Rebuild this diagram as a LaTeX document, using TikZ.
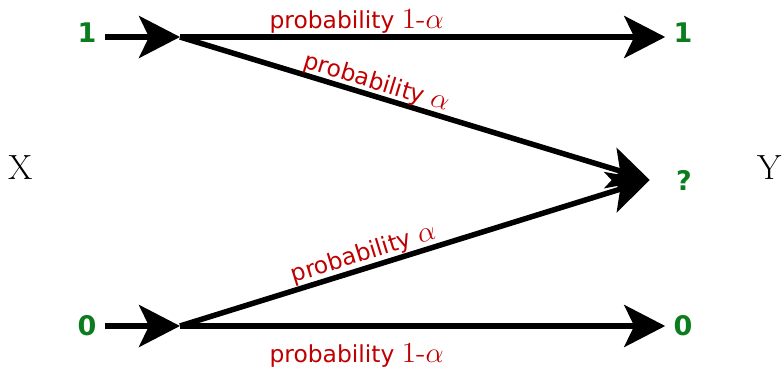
\documentclass[tikz,border=0pt]{standalone}
\usepackage{fontspec}
\newfontfamily\labelfont{DejaVu Sans}
\usetikzlibrary{arrows.meta}
\definecolor{bitgreen}{HTML}{0B7D1E}
\definecolor{probred}{HTML}{C00000}
\newcommand{\greekpart}[1]{{\fontsize{14.5}{16}\selectfont #1}}
\tikzset{
  bitnode/.style={font=\labelfont\bfseries\fontsize{13.5}{16}\selectfont, text=bitgreen, inner sep=4pt},
  varnode/.style={font=\fontsize{17.5}{20}\selectfont},
  chanarrow/.style={-{Stealth[length=20.5pt,width=21pt,inset=5pt]}, line width=2.75pt},
  problabel/.style={font=\labelfont\fontsize{11.7}{14}\selectfont, text=probred, inner sep=2.5pt}
}

\begin{document}
\begin{tikzpicture}[x=0.5pt,y=-0.5pt]
\useasboundingbox (0,0) rectangle (782,367);
% channel input and output
\node[varnode] (xlab) at (21,168) {X};
\node[varnode] (ylab) at (770,168) {Y};
\node[bitnode] (xone) at (87,33) {1};
\node[bitnode] (xzero) at (87,326) {0};
\node[bitnode] (yone) at (683,33) {1};
\node[bitnode] (yerase) at (684,180) {?};
\node[bitnode] (yzero) at (683,326) {0};
\coordinate (sone) at (180,37);
\coordinate (szero) at (180,326);

\draw[chanarrow] (xone.east |- sone) -- (sone);
\draw[chanarrow] (xzero.east |- szero) -- (szero);

% transitions
\draw[chanarrow] (sone) -- node[problabel, above, inner sep=0.5pt, pos=0.364] {probability \greekpart{\rmfamily 1-$\alpha$}} (sone -| yone.west);
\draw[chanarrow] (sone) -- node[problabel, above, sloped, inner sep=-0.5pt, pos=0.41] {probability \greekpart{$\alpha$}} ([xshift=-9pt]yerase.west);
\draw[chanarrow] (szero) -- node[problabel, above, sloped, inner sep=0pt, pos=0.40] {probability \greekpart{$\alpha$}} ([xshift=-9pt]yerase.west);
\draw[chanarrow] (szero) -- node[problabel, below=4.5pt, pos=0.364] {probability \greekpart{\rmfamily 1-$\alpha$}} (szero -| yzero.west);
\end{tikzpicture}
\end{document}
